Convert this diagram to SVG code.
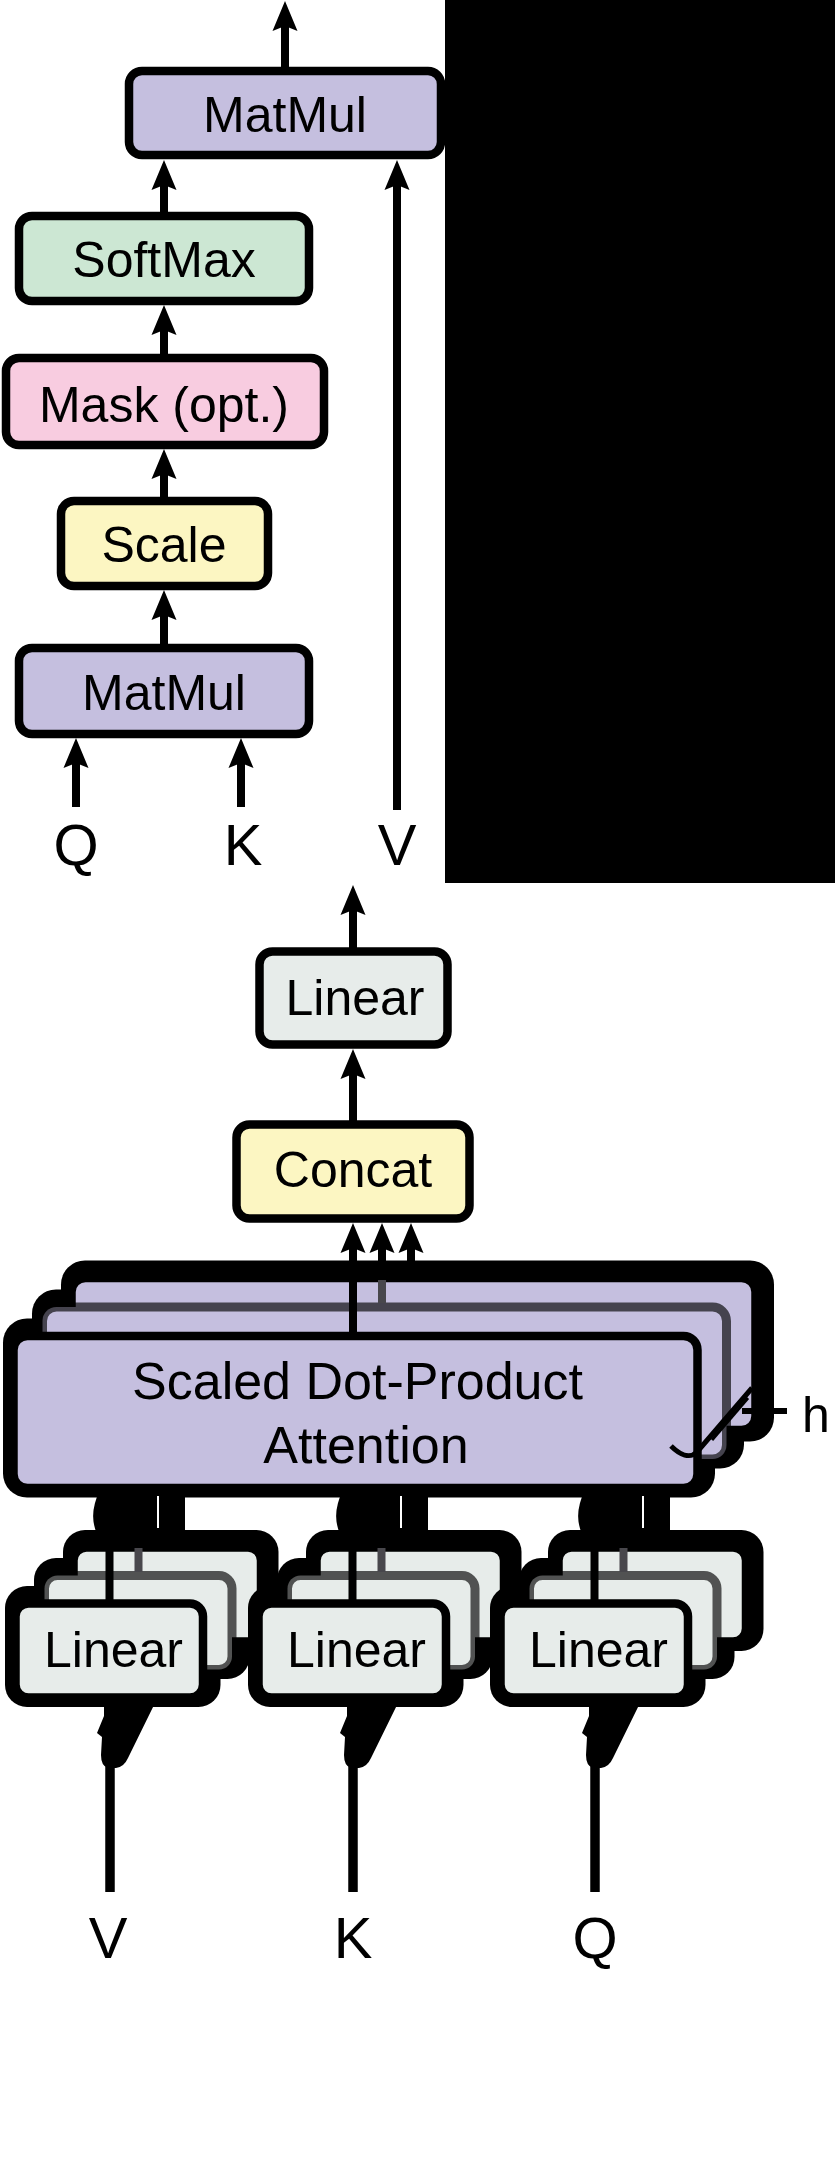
<svg xmlns="http://www.w3.org/2000/svg" width="835" height="2166" viewBox="0 0 835 2166">
<style>
.box{stroke:#000;stroke-width:8.5}
.lav{fill:#c5bfdf}
.grn{fill:#cce7d3}
.pnk{fill:#f8cce0}
.yel{fill:#fcf6c2}
.gry{fill:#e7ecea}
.mid{stroke:#000;stroke-opacity:0.65;stroke-width:9}
.halo{fill:#000}
.lbl{font-family:"Liberation Sans",Arial,Helvetica,sans-serif;font-size:50px;fill:#000;text-anchor:middle}
.big{font-size:58px}
.att{font-size:52px}
.ln{stroke:#000;stroke-width:8;fill:none}
.arr{stroke:#000;stroke-width:8;fill:none;marker-end:url(#ah)}
.gl{stroke:#48474c;stroke-width:8}
</style>
<defs>
<marker id="ah" viewBox="-31 -13 32 26" refX="-24" refY="0" markerWidth="32" markerHeight="26" markerUnits="userSpaceOnUse" orient="auto">
<path d="M0,0 L-30,-12.5 L-25,0 L-30,12.5 Z" fill="#000"/>
</marker>
<g id="linstack">
<rect class="halo" x="63" y="1530" width="215.5" height="121" rx="22"/>
<rect class="halo" x="34" y="1558" width="215.5" height="121" rx="22"/>
<rect class="halo" x="5" y="1586" width="215.5" height="121" rx="22"/>
<path class="halo" d="M100 1490 L185 1490 L185 1534 L97 1534 Q88 1514 100 1490 Z"/>
<rect x="157" y="1496" width="2" height="32" fill="#fff"/>
<rect class="box gry" x="73.5" y="1547.5" width="187.5" height="94" rx="13"/>
<rect class="gry mid" x="44.5" y="1575.5" width="187.5" height="94" rx="13"/>
<rect class="box gry" x="15.5" y="1603.5" width="187.5" height="94" rx="13"/>
<line class="gl" x1="138.5" y1="1548" x2="138.5" y2="1572"/>
<line class="ln" x1="109.5" y1="1490" x2="109.5" y2="1600"/>
<path class="halo" d="M104 1703 L155 1703 L128 1758 Q124 1767 116 1768 L108 1768 Q101 1766 101 1755 L102 1737 L97 1733 L104 1716 Z"/>
<line class="ln" x1="110" y1="1760" x2="110" y2="1892" style="stroke-width:9.5"/>
</g>
</defs>

<rect id="blackpanel" x="445" y="0" width="390" height="883" fill="#000"/>

<g id="matmul-top"><rect class="box lav" x="129" y="71" width="312" height="84" rx="13"/><text class="lbl" x="285" y="132">MatMul</text></g>
<g id="softmax"><rect class="box grn" x="19" y="216" width="290" height="85" rx="13"/><text class="lbl" x="164" y="277">SoftMax</text></g>
<g id="mask"><rect class="box pnk" x="6" y="358" width="318" height="87" rx="13"/><text class="lbl" x="164" y="422">Mask (opt.)</text></g>
<g id="scale"><rect class="box yel" x="61" y="501" width="207" height="85" rx="13"/><text class="lbl" x="164" y="562">Scale</text></g>
<g id="matmul-bottom"><rect class="box lav" x="19" y="648" width="290" height="86" rx="13"/><text class="lbl" x="164" y="710">MatMul</text></g>
<g id="top-inputs"><text class="lbl big" x="76" y="865">Q</text><text class="lbl big" x="243" y="865">K</text><text class="lbl big" x="397" y="865">V</text></g>

<g id="linear-out"><rect class="box gry" x="259.5" y="951.5" width="188" height="93" rx="13"/><text class="lbl" x="355" y="1015">Linear</text></g>
<g id="concat"><rect class="box yel" x="236.5" y="1124.5" width="233" height="94" rx="13"/><text class="lbl" x="353" y="1187">Concat</text></g>

<g id="attention">
<rect class="halo" x="61" y="1260.5" width="713" height="181" rx="24"/>
<rect class="halo" x="32" y="1289.5" width="712" height="179" rx="24"/>
<rect class="halo" x="3" y="1318.5" width="712" height="179" rx="24"/>
<rect class="box lav" x="71.5" y="1278" width="684" height="152" rx="14"/>
<rect class="lav mid" x="42.5" y="1307" width="684" height="152" rx="14"/>
<rect class="box lav" x="13.5" y="1336" width="684" height="152" rx="14"/>
<text class="lbl att" x="357.5" y="1399">Scaled Dot-Product</text>
<text class="lbl att" x="366" y="1463">Attention</text>
<path d="M671 1446 C680 1455 690 1459 697 1452 L752 1388" fill="none" stroke="#000" stroke-width="5"/>
<path d="M712 1440 L748 1398" fill="none" stroke="#000" stroke-width="3"/>
<line x1="742" y1="1411" x2="787" y2="1411" stroke="#000" stroke-width="6"/>
<text class="lbl" x="816" y="1432">h</text>
</g>

<g id="linear-v"><use href="#linstack"/><text class="lbl" x="113.5" y="1667">Linear</text></g>
<g id="linear-k"><use href="#linstack" transform="translate(243 0)"/><text class="lbl" x="356.5" y="1667">Linear</text></g>
<g id="linear-q"><use href="#linstack" transform="translate(485 0)"/><text class="lbl" x="598.5" y="1667">Linear</text></g>

<g id="bottom-inputs"><text class="lbl big" x="108" y="1958">V</text><text class="lbl big" x="353" y="1958">K</text><text class="lbl big" x="595" y="1958">Q</text></g>

<g id="connectors">
<line class="arr" x1="285" y1="70" x2="285" y2="25"/>
<line class="arr" x1="164" y1="214" x2="164" y2="184"/>
<line class="arr" x1="164" y1="356" x2="164" y2="329"/>
<line class="arr" x1="164" y1="499" x2="164" y2="473"/>
<line class="arr" x1="164" y1="646" x2="164" y2="614"/>
<line class="arr" x1="76" y1="807" x2="76" y2="762"/>
<line class="arr" x1="241" y1="807" x2="241" y2="762"/>
<line class="arr" x1="397" y1="810" x2="397" y2="184"/>
<line class="arr" x1="353" y1="950" x2="353" y2="909"/>
<line class="arr" x1="353" y1="1122" x2="353" y2="1073"/>
<line class="arr" x1="353" y1="1333" x2="353" y2="1247"/>
<line class="arr" x1="382" y1="1282" x2="382" y2="1247"/>
<line class="arr" x1="411" y1="1282" x2="411" y2="1247"/>
<line class="gl" x1="382" y1="1280" x2="382" y2="1303"/>
</g>
</svg>
